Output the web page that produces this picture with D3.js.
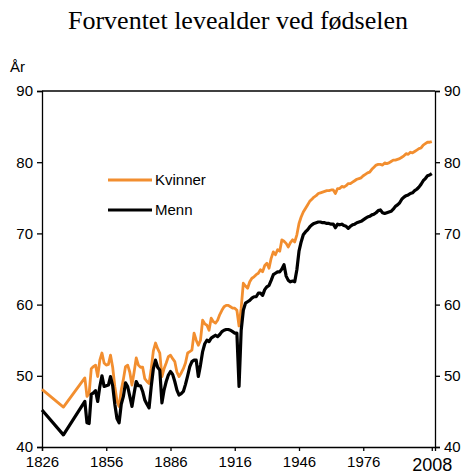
<!DOCTYPE html>
<html>
<head>
<meta charset="utf-8">
<script src="https://cdn.jsdelivr.net/npm/d3@7"></script>
<style>
  body { margin: 0; background: #fff; }
  text { font-family: "Liberation Sans", Arial, sans-serif; }
</style>
</head>
<body>
<div id="chart"></div>
<script>
// Chart data: years, then life expectancy at birth for women and men
var years = [1826, 1836,
  1846, 1847, 1848, 1849, 1850, 1851, 1852, 1853, 1854, 1855,
  1856, 1857, 1858, 1859, 1860, 1861, 1862, 1863, 1864, 1865,
  1866, 1867, 1868, 1869, 1870, 1871, 1872, 1873, 1874, 1875,
  1876, 1877, 1878, 1879, 1880, 1881, 1882, 1883, 1884, 1885,
  1886, 1887, 1888, 1889, 1890, 1891, 1892, 1893, 1894, 1895,
  1896, 1897, 1898, 1899, 1900, 1901, 1902, 1903, 1904, 1905,
  1906, 1907, 1908, 1909, 1910, 1911, 1912, 1913, 1914, 1915,
  1916, 1917, 1918, 1919, 1920, 1921, 1922, 1923, 1924, 1925,
  1926, 1927, 1928, 1929, 1930, 1931, 1932, 1933, 1934, 1935,
  1936, 1937, 1938, 1939, 1940, 1941, 1942, 1943, 1944, 1945,
  1946, 1947, 1948, 1949, 1950, 1951, 1952, 1953, 1954, 1955,
  1956, 1957, 1958, 1959, 1960, 1961, 1962, 1963, 1964, 1965,
  1966, 1967, 1968, 1969, 1970, 1971, 1972, 1973, 1974, 1975,
  1976, 1977, 1978, 1979, 1980, 1981, 1982, 1983, 1984, 1985,
  1986, 1987, 1988, 1989, 1990, 1991, 1992, 1993, 1994, 1995,
  1996, 1997, 1998, 1999, 2000, 2001, 2002, 2003, 2004, 2005,
  2006, 2007, 2008];

var kvinner = [48.1, 45.6,
  49.7, 47.1, 47.5, 51.0, 51.3, 51.5, 49.9, 52.2, 53.2, 51.8,
  51.5, 51.6, 52.9, 51.2, 48.5, 46.5, 45.7, 48.0, 49.5, 51.3,
  51.5, 50.5, 48.7, 50.5, 52.5, 51.5, 51.2, 51.2, 49.6, 49.2,
  48.9, 51.0, 53.5, 54.6, 53.8, 53.2, 49.9, 51.0, 51.8, 52.7,
  52.9, 52.4, 52.0, 50.5, 49.9, 50.4, 51.0, 51.8, 53.2, 53.4,
  53.6, 56.0, 55.0, 54.3, 55.0, 57.8, 57.3, 57.1, 56.4, 58.1,
  57.6, 57.4, 57.8, 58.6, 59.2, 59.7, 59.9, 59.9, 59.7, 59.5,
  59.5, 59.2, 57.0, 59.5, 63.0, 62.6, 62.3, 63.2, 63.7, 63.9,
  64.2, 64.4, 64.9, 64.6, 65.5, 65.8, 65.1, 66.5, 67.4, 67.0,
  67.7, 67.5, 69.1, 68.9, 68.6, 68.1, 68.7, 69.1, 68.8, 69.8,
  71.4, 72.3, 73.0, 73.5, 74.0, 74.5, 74.8, 75.1, 75.3, 75.6,
  75.7, 75.8, 75.9, 76.0, 76.0, 76.1, 76.1, 75.6, 76.3, 76.3,
  76.6, 76.5, 76.7, 77.0, 77.0, 77.2, 77.4, 77.6, 77.7, 77.8,
  78.1, 78.3, 78.5, 78.6, 79.0, 79.3, 79.6, 79.7, 79.7, 79.6,
  79.9, 79.8, 79.9, 80.1, 80.3, 80.3, 80.4, 80.5, 80.7, 80.9,
  81.2, 81.1, 81.4, 81.3, 81.5, 81.7, 81.9, 82.0, 82.4, 82.6,
  82.8, 82.8, 82.9];

var menn = [45.2, 41.7,
  46.4, 43.4, 43.3, 47.4, 47.6, 47.9, 46.4, 48.5, 50.0, 48.5,
  48.6, 48.7, 49.9, 48.6, 46.0, 44.0, 43.4, 46.0, 47.1, 49.0,
  48.5, 47.1, 45.7, 47.5, 49.2, 48.6, 48.6, 47.8, 46.6, 46.0,
  45.5, 48.5, 51.0, 52.2, 51.2, 50.8, 46.2, 48.0, 49.2, 50.1,
  50.6, 50.2, 49.2, 48.0, 47.3, 47.5, 47.8, 48.8, 50.0, 51.3,
  52.0, 52.2, 52.2, 49.9, 51.5, 53.4, 54.5, 55.0, 54.8, 55.3,
  55.5, 55.7, 55.5, 55.8, 56.2, 56.4, 56.5, 56.5, 56.4, 56.2,
  56.0, 56.0, 48.5, 56.4, 59.2, 60.2, 60.4, 60.6, 60.9, 61.1,
  61.1, 61.6, 61.6, 61.3, 62.1, 62.5, 62.7, 63.4, 64.2, 64.4,
  64.6, 64.6, 65.0, 65.6, 64.0, 63.4, 63.2, 63.3, 63.2, 64.9,
  67.5, 68.8, 69.8, 70.2, 70.5, 70.9, 71.2, 71.4, 71.5, 71.6,
  71.6, 71.5, 71.5, 71.4, 71.4, 71.3, 71.3, 70.8, 71.3, 71.2,
  71.3, 71.1, 71.0, 70.7, 71.0, 71.2, 71.3, 71.5, 71.6, 71.7,
  71.9, 72.1, 72.3, 72.4, 72.6, 72.7, 72.9, 73.2, 73.3, 72.9,
  72.8, 72.9, 73.0, 73.1, 73.4, 73.8, 74.0, 74.3, 74.8, 75.1,
  75.3, 75.4, 75.6, 75.7, 76.0, 76.2, 76.5, 76.9, 77.4, 77.7,
  78.1, 78.2, 78.4];

var xTicks = [1826, 1856, 1886, 1916, 1946, 1976, 2008];
var yTicks = [40, 50, 60, 70, 80, 90];
var seriesNames = ["Kvinner", "Menn"];
var seriesColors = ["#f28e2f", "#000000"];

// SVG wrapper width and height
var svgWidth = 465;
var svgHeight = 475;

var margin = { top: 91, right: 30, bottom: 28, left: 42 };
var width = 435 - margin.left;
var height = 447 - margin.top;

var svg = d3.select("#chart")
  .append("svg")
  .attr("width", svgWidth)
  .attr("height", svgHeight);

var chartGroup = svg.append("g")
  .attr("transform", `translate(${margin.left}, ${margin.top})`);

// Scales
var xScale = d3.scaleLinear()
  .domain([1826, 2009.5])
  .range([0, width]);

var yScale = d3.scaleLinear()
  .domain([40, 90])
  .range([height, 0]);

// Title
svg.append("text")
  .attr("x", 238)
  .attr("y", 29)
  .attr("text-anchor", "middle")
  .style("font-family", "'Liberation Serif', 'Times New Roman', serif")
  .style("font-size", "26px")
  .text("Forventet levealder ved fødselen");

// Unit label
svg.append("text")
  .attr("x", 10)
  .attr("y", 72)
  .style("font-size", "15px")
  .text("År");

// Box top
chartGroup.append("line")
  .attr("x1", 0).attr("x2", width)
  .attr("y1", 0).attr("y2", 0)
  .attr("stroke", "#000")
  .attr("stroke-width", 1.3);

// Axes
var leftAxis = d3.axisLeft(yScale).tickValues(yTicks).tickSize(5).tickPadding(4);
var rightAxis = d3.axisRight(yScale).tickValues(yTicks).tickSize(5).tickPadding(4);
var bottomAxis = d3.axisBottom(xScale).tickValues(xTicks).tickFormat(d3.format("d"))
  .tickSize(4).tickPadding(5);

function styleAxis(g) {
  g.select(".domain").attr("stroke", "#000").attr("stroke-width", 1.3);
  g.selectAll(".tick line").attr("stroke", "#000").attr("stroke-width", 1.3);
  g.selectAll(".tick text")
    .attr("fill", "#000")
    .style("font-family", "'Liberation Sans', Arial, sans-serif")
    .style("font-size", "15px");
}

chartGroup.append("g").call(leftAxis).call(styleAxis);

chartGroup.append("g")
  .attr("transform", `translate(${width}, 0)`)
  .call(rightAxis).call(styleAxis);

chartGroup.append("g")
  .attr("transform", `translate(0, ${height})`)
  .call(bottomAxis).call(styleAxis)
  .selectAll(".tick text")
  .filter(d => d === 2008)
  .style("font-size", "18px")
  .attr("dy", "0.85em");

// Lines
var rows = years.map((y, i) => ({ year: y, k: kvinner[i], m: menn[i] }));

var lineK = d3.line().x(d => xScale(d.year)).y(d => yScale(d.k));
var lineM = d3.line().x(d => xScale(d.year)).y(d => yScale(d.m));

chartGroup.append("path")
  .datum(rows)
  .attr("fill", "none")
  .attr("stroke", seriesColors[0])
  .attr("stroke-width", 2.8)
  .attr("stroke-linejoin", "round")
  .attr("d", lineK);

chartGroup.append("path")
  .datum(rows)
  .attr("fill", "none")
  .attr("stroke", seriesColors[1])
  .attr("stroke-width", 3.2)
  .attr("stroke-linejoin", "round")
  .attr("d", lineM);

// Legend
var legend = svg.append("g").attr("transform", "translate(108, 180)");

seriesNames.forEach(function(name, i) {
  var row = legend.append("g").attr("transform", `translate(0, ${i * 30})`);
  row.append("line")
    .attr("x1", 0).attr("x2", 44)
    .attr("stroke", seriesColors[i])
    .attr("stroke-width", i === 0 ? 2.8 : 3.2);
  row.append("text")
    .attr("x", 47)
    .attr("y", 0)
    .attr("dy", "0.35em")
    .style("font-size", "15px")
    .text(name);
});
</script>
</body>
</html>
